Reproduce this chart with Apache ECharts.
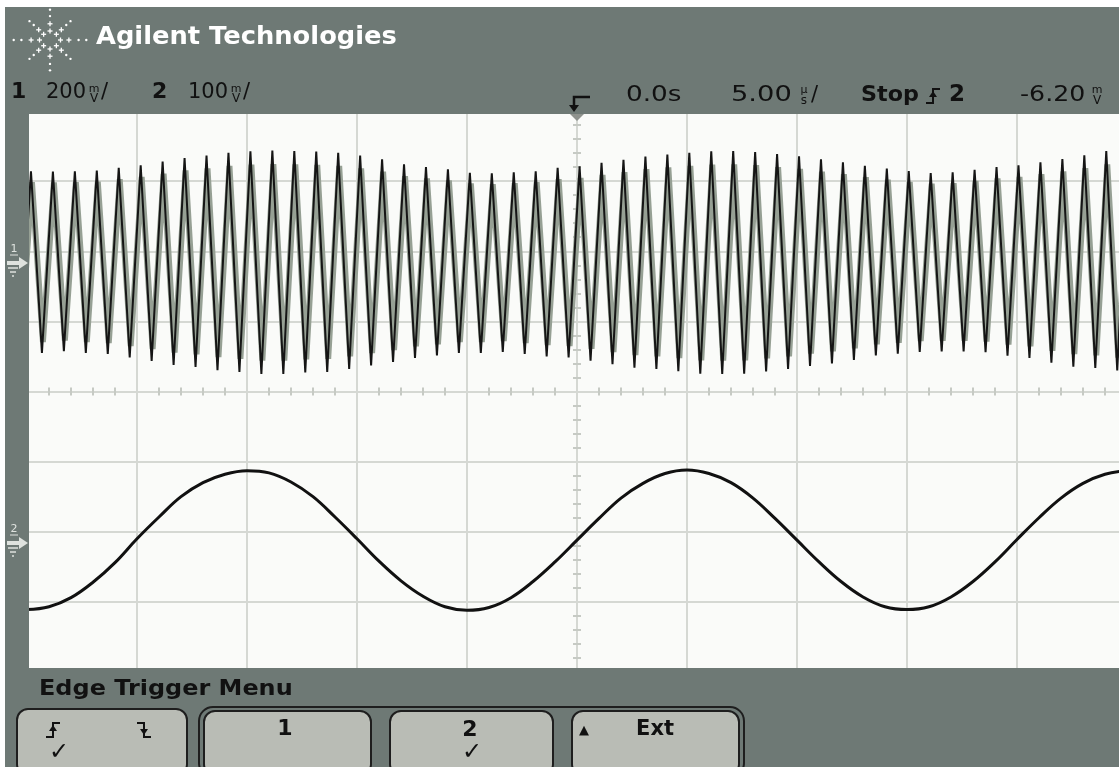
<!DOCTYPE html>
<html><head><meta charset="utf-8">
<script src="https://cdn.jsdelivr.net/npm/echarts@6/dist/echarts.min.js"></script>
<style>html,body{margin:0;padding:0;background:#fff;}#c{width:1119px;height:767px;}</style>
</head><body><div id="c"></div>
<script>
// ---------------- data read from the screen ----------------
// time base (µs): screen spans -25 .. 25 µs, 5 µs/div
const timeMinUs = -25;
const timeMaxUs = 25;
const usPerDiv = 5;
const voltDivs = 4; // ±4 vertical divisions

// Channel 1 (200 mV/div): positive peaks and negative troughs, in mV, one per cycle
const ch1FirstPeakUs = -24.82;
const ch1PeriodUs = 0.9975;
const ch1PeakMv = [260,259,260,262,270,277,288,298,305,313,317,319,318,316,313,305,294,280,272,266,256,254,257,260,270,
                   274,284,293,302,308,313,317,318,315,309,303,294,286,276,268,261,255,257,264,272,277,286,295,306,318,322];
const ch1TroughMv = [-256,-258,-253,-258,-261,-271,-281,-292,-298,-307,-312,-318,-318,-314,-312,-304,-294,-284,-272,-265,-258,-258,-255,-261,-268,-271,
                     -280,-290,-300,-304,-310,-317,-318,-317,-311,-304,-295,-288,-278,-265,-260,-255,-254,-254,-256,-266,-272,-286,-297,-301,-308];

// Channel 2 (100 mV/div): one reading per µs from -25 µs to +25 µs, in mV
const ch2StartUs = -25;
const ch2StepUs = 1;
const ch2Mv = [-99,-95,-82,-60,-32,2,33,62,82,94,99,96,83,62,33,2,-30,-58,-80,-95,-100,-96,-82,-59,-31,
               0,31,60,81,95,100,95,82,60,31,0,-31,-59,-81,-95,-99,-95,-81,-59,-31,1,32,60,81,94,99];

// channel settings
const ch1MvPerDiv = 200, ch1OffsetDiv = 1.84;   // ground marker above centre
const ch2MvPerDiv = 100, ch2OffsetDiv = -2.12;  // ground marker below centre
const ch1DisplayGain = 0.88;                     // grey persistence trace amplitude
const ch1DisplayLagUs = 0.045;                   // grey persistence trace lag

// ---------------- build series ----------------
const ch1Points = [];
for (let j = 0; j < ch1PeakMv.length; j++) {
  ch1Points.push([ch1FirstPeakUs + (j - 0.5) * ch1PeriodUs, ch1TroughMv[j]]);
  ch1Points.push([ch1FirstPeakUs + j * ch1PeriodUs, ch1PeakMv[j]]);
}
const ch2Points = ch2Mv.map((v, i) => [ch2StartUs + i * ch2StepUs, v]);

const ch1Min = (-voltDivs - ch1OffsetDiv) * ch1MvPerDiv, ch1Max = (voltDivs - ch1OffsetDiv) * ch1MvPerDiv;
const ch2Min = (-voltDivs - ch2OffsetDiv) * ch2MvPerDiv, ch2Max = (voltDivs - ch2OffsetDiv) * ch2MvPerDiv;

const BG = '#6e7975', GRID = '#d5d8d3', TICK = '#c6cac4', INK = '#111111', LIGHT = '#dfe2de';
const FONT = '"DejaVu Sans", sans-serif';

function txt(text, x, y, size, o) {
  o = o || {};
  return { type: 'text', x: x, y: y, z: 120, scaleX: o.sx || 1, silent: true,
    style: { text: text, font: (o.bold ? 'bold ' : '') + size + 'px ' + FONT, fill: o.fill || INK,
      align: o.align || 'left', verticalAlign: 'middle' } };
}
function rect(x, y, w, h, fill, z, r, stroke, lw) {
  return { type: 'rect', z: z || 100, silent: true, shape: { x: x, y: y, width: w, height: h, r: r || 0 },
    style: { fill: fill, stroke: stroke || null, lineWidth: lw || 0 } };
}
function poly(points, stroke, lw, z) {
  return { type: 'polyline', z: z || 120, silent: true, shape: { points: points }, style: { stroke: stroke, lineWidth: lw, fill: null } };
}
function tri(points, fill, z) {
  return { type: 'polygon', z: z || 120, silent: true, shape: { points: points }, style: { fill: fill } };
}
function edgeIcon(cx, cy, rising) {
  const els = [];
  if (rising) {
    els.push(poly([[cx - 7, cy + 7], [cx, cy + 7], [cx, cy - 7], [cx + 7, cy - 7]], INK, 2));
    els.push(tri([[cx - 4, cy + 1], [cx + 4, cy + 1], [cx, cy - 5]], INK));
  } else {
    els.push(poly([[cx - 7, cy - 7], [cx, cy - 7], [cx, cy + 7], [cx + 7, cy + 7]], INK, 2));
    els.push(tri([[cx - 4, cy - 1], [cx + 4, cy - 1], [cx, cy + 5]], INK));
  }
  return els;
}
function unit(top, bottom, x, y) {
  return [txt(top, x, y - 5, 11, { align: 'center' }), txt(bottom, x, y + 5, 12, { align: 'center' })];
}
function chMarker(label, y) {
  return [
    txt(label, 14, y - 14, 11, { fill: LIGHT, align: 'center' }),
    poly([[10, y - 8], [18, y - 8]], LIGHT, 1, 120),
    rect(7, y - 2, 14, 4, LIGHT, 120),
    tri([[19, y - 6], [28, y], [19, y + 6]], LIGHT),
    poly([[8, y + 5], [18, y + 5]], LIGHT, 1.5, 120),
    poly([[10, y + 9], [16, y + 9]], LIGHT, 1.5, 120),
    poly([[12, y + 13], [14, y + 13]], LIGHT, 1.5, 120)
  ];
}
function logo(cx, cy) {
  const els = [];
  for (let k = 0; k < 8; k++) {
    const a = k * Math.PI / 4;
    const diag = k % 2 === 1;
    const sx = Math.cos(a), sy = Math.sin(a);
    const rays = diag ? [9, 16] : [10, 18];
    rays.forEach(r => {
      const px = cx + sx * r * (diag ? 1 : 1.05), py = cy + sy * r * 0.9;
      els.push(poly([[px - 2.5, py], [px + 2.5, py]], '#fff', 1.3));
      els.push(poly([[px, py - 2.5], [px, py + 2.5]], '#fff', 1.3));
    });
    const dots = diag ? [23, 29] : [26, 33];
    dots.forEach(r => {
      els.push({ type: 'circle', z: 120, silent: true, shape: { cx: cx + sx * r * (diag ? 1 : 1.1), cy: cy + sy * r * 0.92, r: 1.2 }, style: { fill: '#fff' } });
    });
  }
  return els;
}

const graphics = [
  // dark frame of the scope display
  rect(5, 7, 1114, 107, BG, 100),
  rect(5, 114, 24, 554, BG, 100),
  rect(5, 668, 1114, 99, BG, 100),
  ...logo(50, 40),
  txt('Agilent Technologies', 96, 37.5, 25, { bold: true, fill: '#ffffff', sx: 1.03 }),
  // status line, left
  txt('1', 11, 92.5, 22, { bold: true }),
  txt('200', 46, 93, 21, {}),
  ...unit('m', 'V', 94, 94),
  txt('/', 101, 93, 21, {}),
  txt('2', 152, 92.5, 22, { bold: true }),
  txt('100', 188, 93, 21, {}),
  ...unit('m', 'V', 236, 94),
  txt('/', 243, 93, 21, {}),
  // status line, right
  poly([[590, 97], [574, 97], [574, 107]], INK, 2.5),
  tri([[569, 105], [579, 105], [574, 112]], INK),
  tri([[570, 114], [584, 114], [577, 121]], '#8e928d'),
  txt('0.0s', 626, 95.5, 21, { sx: 1.25 }),
  txt('5.00', 731, 95.5, 21, { sx: 1.3 }),
  ...unit('µ', 's', 804, 95.5),
  txt('/', 811, 95.5, 21, {}),
  txt('Stop', 861, 95.5, 21, { bold: true, sx: 1.06 }),
  ...edgeIcon(933, 96, true),
  txt('2', 949, 95, 23, { bold: true }),
  txt('-6.20', 1020, 95.5, 21, { sx: 1.2 }),
  ...unit('m', 'V', 1097, 95.5),
  // channel ground markers
  ...chMarker('1', 263),
  ...chMarker('2', 543),
  // softkey menu
  txt('Edge Trigger Menu', 39, 689.5, 21, { bold: true, sx: 1.14 }),
  rect(199, 707, 545, 70, null, 110, 14, '#1e1e1e', 2),
  rect(17, 709, 170, 66, '#b9bcb5', 112, 11, '#1e1e1e', 2),
  rect(204, 711, 167, 64, '#b9bcb5', 112, 11, '#1e1e1e', 2),
  rect(390, 711, 163, 64, '#b9bcb5', 112, 11, '#1e1e1e', 2),
  rect(572, 711, 167, 64, '#b9bcb5', 112, 11, '#1e1e1e', 2),
  ...edgeIcon(53, 730, true),
  ...edgeIcon(144, 730, false),
  txt('✓', 59, 753, 24, { align: 'center' }),
  txt('1', 285, 729.5, 22, { bold: true, align: 'center' }),
  txt('2', 470, 730.5, 22, { bold: true, align: 'center' }),
  txt('✓', 472, 753, 24, { align: 'center' }),
  txt('▲', 584, 731, 13, { align: 'center' }),
  txt('Ext', 655, 729.5, 21, { bold: true, align: 'center' })
];

const axisCommon = { type: 'value', axisLabel: { show: false }, axisTick: { show: false } };
const minor = { show: true, splitNumber: 5, length: 4, lineStyle: { color: TICK, width: 2 } };

const option = {
  backgroundColor: '#ffffff',
  animation: false,
  grid: { left: 27, top: 111, width: 1100, height: 561, show: true, backgroundColor: '#fafbf9', borderWidth: 0, containLabel: false, outerBoundsMode: 'none' },
  xAxis: [
    Object.assign({}, axisCommon, { min: timeMinUs, max: timeMaxUs, interval: usPerDiv, position: 'bottom',
      splitLine: { show: true, lineStyle: { color: GRID, width: 2 } },
      axisLine: { show: true, onZero: true, onZeroAxisIndex: 0, lineStyle: { color: GRID, width: 2 } },
      minorTick: minor }),
    Object.assign({}, axisCommon, { min: timeMinUs, max: timeMaxUs, interval: usPerDiv, position: 'top',
      splitLine: { show: false },
      axisLine: { show: false, onZero: true, onZeroAxisIndex: 0 },
      minorTick: minor }),
    { type: 'value', show: false, min: timeMinUs - ch1DisplayLagUs, max: timeMaxUs - ch1DisplayLagUs, axisLine: { onZero: false }, splitLine: { show: false } }
  ],
  yAxis: [
    Object.assign({}, axisCommon, { min: -voltDivs, max: voltDivs, interval: 1, position: 'left',
      splitLine: { show: true, lineStyle: { color: GRID, width: 2 } },
      axisLine: { show: true, onZero: true, onZeroAxisIndex: 0, lineStyle: { color: GRID, width: 2 } },
      minorTick: minor }),
    Object.assign({}, axisCommon, { min: -voltDivs, max: voltDivs, interval: 1, position: 'right',
      splitLine: { show: false },
      axisLine: { show: false, onZero: true, onZeroAxisIndex: 0 },
      minorTick: minor }),
    { type: 'value', show: false, min: ch1Min, max: ch1Max, axisLine: { onZero: false }, splitLine: { show: false } },
    { type: 'value', show: false, min: ch1Min / ch1DisplayGain, max: ch1Max / ch1DisplayGain, axisLine: { onZero: false }, splitLine: { show: false } },
    { type: 'value', show: false, min: ch2Min, max: ch2Max, axisLine: { onZero: false }, splitLine: { show: false } }
  ],
  series: [
    { name: 'ch1 persist', type: 'line', xAxisIndex: 2, yAxisIndex: 3, data: ch1Points, symbol: 'none', z: 2,
      lineStyle: { color: '#96a094', width: 6, join: 'bevel', cap: 'butt' } },
    { name: 'ch1', type: 'line', xAxisIndex: 0, yAxisIndex: 2, data: ch1Points, symbol: 'none', z: 3,
      lineStyle: { color: '#151515', width: 2 } },
    { name: 'ch2', type: 'line', xAxisIndex: 0, yAxisIndex: 4, data: ch2Points, symbol: 'none', smooth: 0.4, z: 3,
      lineStyle: { color: '#111111', width: 3 } }
  ],
  graphic: { elements: graphics }
};

const chart = echarts.init(document.getElementById('c'), null, { renderer: 'canvas' });
chart.setOption(option);
</script></body></html>
